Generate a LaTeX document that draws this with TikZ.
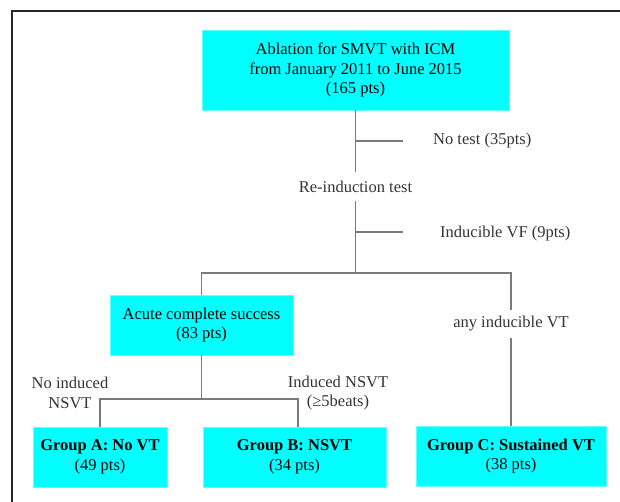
\documentclass[tikz,border=0pt]{standalone}
\usepackage{fontspec}
\setmainfont{Liberation Serif}
\definecolor{boxcyan}{HTML}{00FFFF}
\definecolor{linegray}{HTML}{7A7A7A}
\definecolor{labelgray}{HTML}{333333}
\tikzset{
  box/.style={draw=boxcyan!60!white, fill=boxcyan, align=center, inner sep=0pt, font=\fontsize{16.5}{19.5}\selectfont},
  lbl/.style={text=labelgray, align=center, inner sep=0pt, font=\fontsize{16.5}{19.5}\selectfont},
  conn/.style={draw=linegray, line width=1.2pt}
}
\begin{document}
\begin{tikzpicture}[x=1pt, y=-1pt]
        \useasboundingbox (0,0) rectangle (620,502);
        % Frame
        \draw[line width=2pt, color=black!85] (12,502) -- (12,11) -- (620,11);

        % Draw nodes
        \node[box, minimum width=307, minimum height=80] (top) at (355.5,70) {Ablation for SMVT with ICM\\from January 2011 to June 2015\\(165 pts)};
        \node[lbl, minimum height=29] (reind) at (355.5,186.5) {Re-induction test};
        \node[box, minimum width=183, minimum height=60] (acute) at (201.5,325) {Acute complete success\\(83 pts)};
        \node[lbl, minimum height=28] (anyvt) at (511,324) {any inducible VT};
        \node[box, minimum width=134, minimum height=60] (grpA) at (100,457) {\textbf{Group A: No VT}\\(49 pts)};
        \node[box, minimum width=183, minimum height=60] (grpB) at (294.5,457) {\textbf{Group B: NSVT}\\(34 pts)};
        \node[box, minimum width=190, minimum height=60] (grpC) at (511,456) {\textbf{Group C: Sustained VT}\\(38 pts)};

        % Branch points
        \coordinate (notest) at (355.5,141);
        \coordinate (notestend) at (403,141);
        \coordinate (vf) at (355.5,232);
        \coordinate (vfend) at (403,232);
        \coordinate (split) at (355.5,273);
        \coordinate (fork) at (201.5,399);

        % Labels
        \node[lbl, anchor=west] (notestlbl) at (433,141) {No test (35pts)};
        \node[lbl, anchor=west] (vflbl) at (440,234) {Inducible VF (9pts)};
        \node[lbl] (noind) at (70,393) {No induced\\NSVT};
        \node[lbl] (ind) at (338,393) {Induced NSVT\\(≥5beats)};

        % Draw connections
        \draw[conn] (top) -- (reind);
        \draw[conn] (notest) -- (notestend);
        \draw[conn] (reind) -- (split);
        \draw[conn] (vf) -- (vfend);
        \draw[conn] (acute.north) |- (split) -| (anyvt.north);
        \draw[conn] (anyvt) -- (grpC);
        \draw[conn] (acute) -- (fork);
        \draw[conn] (grpA.north) |- (fork) -| ([xshift=3.5]grpB.north);
    \end{tikzpicture}
\end{document}
